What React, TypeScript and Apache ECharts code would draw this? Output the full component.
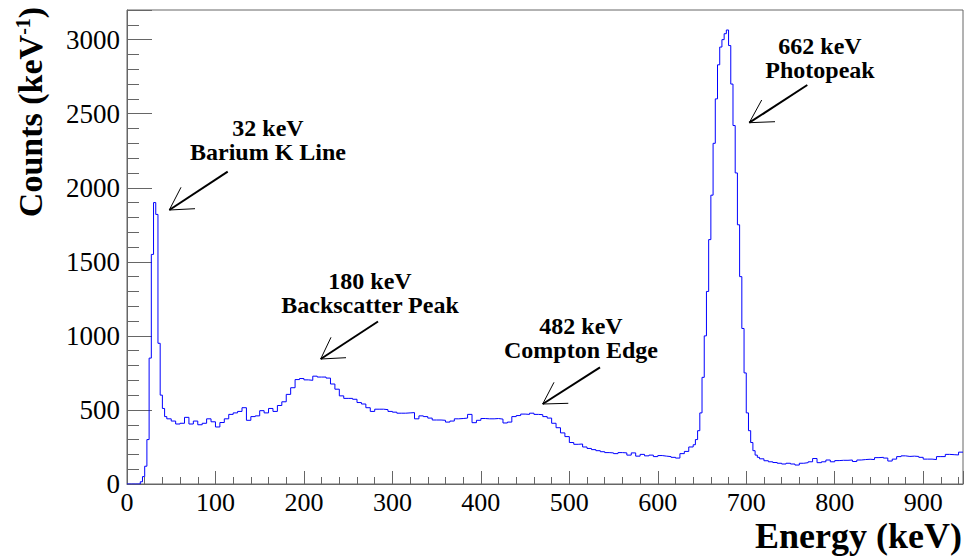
import React, { useEffect, useRef } from "react";
import * as echarts from "echarts";

// Histogram. Continuum uses 5 keV bins,
// the two sharp peaks use 2.5 keV bins.
const X_MAX = 945;
const Y_MAX = 3200;

// 0 - 15 keV, 5 keV bins
const lowEnergyCounts: number[] = [0, 0, 0];

// 15 - 45 keV, 2.5 keV bins (Barium K line)
const bariumPeakCounts: number[] = [
  15, 50, 120, 300, 850, 1550, 1900, 1820, 950, 600, 510, 455,
];

// 45 - 640 keV, 5 keV bins
const continuumCounts: number[] = [
  // 45 - 50
  440,
  // 50 - 100
  425, 405, 410, 450, 405, 425, 400, 410, 440, 420,
  // 100 - 150
  385, 415, 440, 470, 480, 490, 515, 430, 455, 460,
  // 150 - 200
  495, 480, 510, 490, 530, 555, 605, 650, 705, 712,
  // 200 - 250
  703, 700, 728, 722, 722, 715, 675, 640, 595, 578,
  // 250 - 300
  578, 572, 550, 540, 515, 490, 505, 505, 502, 490,
  // 300 - 350
  485, 478, 478, 480, 482, 440, 460, 455, 445, 432,
  // 350 - 400
  432, 430, 418, 425, 440, 442, 445, 470, 414, 430,
  // 400 - 450
  442, 440, 440, 442, 438, 412, 418, 455, 462, 472,
  // 450 - 500
  470, 478, 470, 468, 455, 445, 410, 380, 345, 320,
  // 500 - 550
  280, 268, 270, 250, 240, 232, 225, 218, 212, 210,
  // 550 - 600
  205, 212, 210, 195, 210, 188, 200, 190, 195, 185,
  // 600 - 640
  192, 188, 185, 180, 175, 205, 220, 250,
];

// 640 - 715 keV, 2.5 keV bins (662 keV photopeak)
const photopeakCounts: number[] = [
  265, 300, 360, 480, 720, 1000, 1300, 1650, 1950, 2300,
  2600, 2830, 2950, 3000, 3040, 3065, 2960, 2700, 2420, 2100,
  1750, 1400, 1050, 750, 480, 360, 280, 225, 195, 180,
];

// 715 - 945 keV, 5 keV bins
const highEnergyCounts: number[] = [
  // 715 - 750
  170, 157, 150, 145, 140, 135, 140,
  // 750 - 800
  135, 128, 140, 144, 150, 172, 144, 150, 162, 150,
  // 800 - 850
  158, 160, 160, 162, 152, 162, 165, 167, 165, 178,
  // 850 - 900
  180, 175, 155, 168, 185, 190, 186, 188, 186, 180,
  // 900 - 945
  168, 168, 165, 185, 185, 200, 198, 196, 215,
];

const segments = [
  { start: 0, width: 5, counts: lowEnergyCounts },
  { start: 15, width: 2.5, counts: bariumPeakCounts },
  { start: 45, width: 5, counts: continuumCounts },
  { start: 640, width: 2.5, counts: photopeakCounts },
  { start: 715, width: 5, counts: highEnergyCounts },
];

const xTickInterval = 100;
const yTickInterval = 500;

const annotations = [
  "32 keV\nBarium K Line",
  "180 keV\nBackscatter Peak",
  "482 keV\nCompton Edge",
  "662 keV\nPhotopeak",
];

const SERIF = "Liberation Serif";

// layout of annotation texts and arrows (pixels)
const annoLayout = [
  { cx: 268, cy: 140, tail: [227.7, 171.7], tip: [169.3, 210], h1: [181, 187.3], h2: [195, 208.7] },
  { cx: 370, cy: 293, tail: [378, 321.5], tip: [320.7, 359], h1: [331, 337.3], h2: [346, 357.7] },
  { cx: 581, cy: 338, tail: [600, 367.3], tip: [542.7, 404], h1: [554, 382.3], h2: [568.3, 403.3] },
  { cx: 820, cy: 58, tail: [807.3, 85], tip: [749.3, 122.7], h1: [761.7, 100], h2: [775, 121.7] },
];

export default function App() {
  const ref = useRef<HTMLDivElement>(null);

  useEffect(() => {
    if (!ref.current) return;
    const chart = echarts.init(ref.current, undefined, { renderer: "svg" });

    const data: [number, number][] = [];
    segments.forEach((s) => {
      s.counts.forEach((c, i) => data.push([s.start + i * s.width, c]));
    });
    data.push([X_MAX, highEnergyCounts[highEnergyCounts.length - 1]]);

    const graphics: any[] = [];
    annotations.forEach((a, i) => {
      const L = annoLayout[i];
      graphics.push({
        type: "text",
        x: L.cx,
        y: L.cy,
        style: {
          text: a,
          fontFamily: SERIF,
          fontWeight: "bold",
          fontSize: 24,
          lineHeight: 24,
          fill: "#000",
          align: "center",
          verticalAlign: "middle",
        },
      });
      graphics.push({
        type: "line",
        shape: { x1: L.tail[0], y1: L.tail[1], x2: L.tip[0], y2: L.tip[1] },
        style: { stroke: "#000", lineWidth: 2 },
      });
      graphics.push({
        type: "line",
        shape: { x1: L.tip[0], y1: L.tip[1], x2: L.h1[0], y2: L.h1[1] },
        style: { stroke: "#000", lineWidth: 1 },
      });
      graphics.push({
        type: "line",
        shape: { x1: L.tip[0], y1: L.tip[1], x2: L.h2[0], y2: L.h2[1] },
        style: { stroke: "#000", lineWidth: 1 },
      });
    });

    // axis titles
    graphics.push({
      type: "text",
      x: 30,
      y: 112,
      rotation: Math.PI / 2,
      style: {
        text: "Counts (keV{sup|-1})",
        fontFamily: SERIF,
        fontWeight: "bold",
        fontSize: 34,
        fill: "#000",
        align: "center",
        verticalAlign: "middle",
        rich: {
          sup: {
            fontFamily: SERIF,
            fontWeight: "bold",
            fontSize: 20,
            fill: "#000",
            verticalAlign: "top",
          },
        },
      },
    });
    graphics.push({
      type: "text",
      x: 962,
      y: 536,
      style: {
        text: "Energy (keV)",
        fontFamily: SERIF,
        fontWeight: "bold",
        fontSize: 36,
        fill: "#000",
        align: "right",
        verticalAlign: "middle",
      },
    });

    chart.setOption({
      animation: false,
      backgroundColor: "#fff",
      grid: {
        left: 127,
        right: 1,
        top: 10,
        bottom: 73,
        show: true,
        borderColor: "#666",
        borderWidth: 1,
        backgroundColor: "transparent",
      },
      xAxis: {
        type: "value",
        min: 0,
        max: X_MAX,
        interval: xTickInterval,
        axisLine: { show: true, lineStyle: { color: "#666", width: 1 } },
        axisTick: { show: true, inside: true, length: 13, lineStyle: { color: "#666" } },
        minorTick: { show: true, splitNumber: 5, length: 7, lineStyle: { color: "#666" } },
        splitLine: { show: false },
        axisLabel: {
          fontFamily: SERIF,
          fontSize: 26,
          color: "#000",
          margin: 5,
          showMaxLabel: false,
          formatter: (v: number) => String(v),
        },
      },
      yAxis: {
        type: "value",
        min: 0,
        max: Y_MAX,
        interval: yTickInterval,
        axisLine: { show: true, lineStyle: { color: "#666", width: 1 } },
        axisTick: { show: true, inside: true, length: 25, lineStyle: { color: "#666" } },
        minorTick: { show: true, splitNumber: 5, length: 12, lineStyle: { color: "#666" } },
        splitLine: { show: false },
        axisLabel: {
          fontFamily: SERIF,
          fontSize: 27,
          color: "#000",
          margin: 7,
          showMaxLabel: false,
          formatter: (v: number) => String(v),
        },
      },
      series: [
        {
          type: "line",
          step: "end",
          data,
          showSymbol: false,
          symbol: "none",
          lineStyle: { color: "#0000ff", width: 1 },
          clip: true,
        },
      ],
      graphic: graphics,
    });

    return () => chart.dispose();
  }, []);

  return (
    <div
      ref={ref}
      style={{ position: "fixed", left: 0, top: 0, width: 964, height: 557, background: "#fff" }}
    />
  );
}
